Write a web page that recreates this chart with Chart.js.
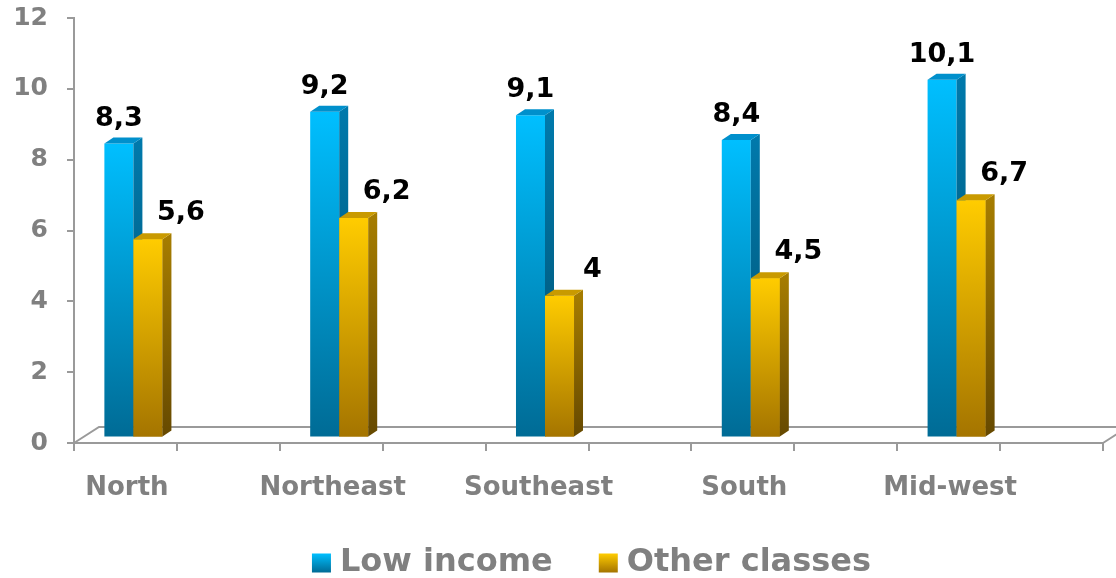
<!DOCTYPE html>
<html>
<head>
<meta charset="utf-8">
<script src="https://cdn.jsdelivr.net/npm/chart.js@4.4.1/dist/chart.umd.min.js"></script>
<style>
    html, body { margin: 0; padding: 0; background: #fff; }
    #wrap { width: 1116px; height: 578px; }
</style>
</head>
<body>
<div id="wrap"><canvas id="incomeChart" width="1116" height="578"></canvas></div>
<script>
// Chart data
const regions = ['North', 'Northeast', 'Southeast', 'South', 'Mid-west'];
const lowIncome = [8.3, 9.2, 9.1, 8.4, 10.1];
const otherClasses = [5.6, 6.2, 4, 4.5, 6.7];
const seriesNames = ['Low income', 'Other classes'];
const yMin = 0, yMax = 12, yStep = 2;

// colours for the fake 3D faces: [front top, front bottom, side top, side bottom, top face]
const blueShades = ['#00bfff', '#006b95', '#0079ab', '#00506f', '#0090cc'];
const goldShades = ['#ffcc00', '#a47400', '#a57c00', '#664900', '#c99a00'];

const FONT = "'DejaVu Sans', Verdana, sans-serif";
const GREY = '#808080';
const AXIS = '#9a9a9a';

// bars sit a bit behind the front edge of the floor
const SHIFT_X = -43.5, SHIFT_Y = -5.5;
const DEPTH_X = 9, DEPTH_Y = -6;
const FLOOR_X = 25, FLOOR_Y = -16;

function frontGradient(shades) {
    return function(c) {
        if (c.type !== 'data') return shades[0];
        const chart = c.chart;
        const ys = chart.scales.y;
        if (!ys) return shades[0];
        const top = ys.getPixelForValue(c.raw);
        const base = ys.getPixelForValue(0);
        if (!isFinite(top) || !isFinite(base) || top === base) return shades[0];
        const g = chart.ctx.createLinearGradient(0, top, 0, base);
        g.addColorStop(0, shades[0]);
        g.addColorStop(1, shades[1]);
        return g;
    };
}

function fmt(v) {
    return String(v).replace('.', ',');
}

function drawFaces(ctx, el, shades) {
    const l = el.x - el.width / 2, r = el.x + el.width / 2;
    const top = el.y, base = el.base;
    if (!isFinite(top) || !isFinite(base)) return;
    // side face
    const sg = ctx.createLinearGradient(0, top, 0, base);
    sg.addColorStop(0, shades[2]);
    sg.addColorStop(1, shades[3]);
    ctx.fillStyle = sg;
    ctx.beginPath();
    ctx.moveTo(r, top);
    ctx.lineTo(r + DEPTH_X, top + DEPTH_Y);
    ctx.lineTo(r + DEPTH_X, base + DEPTH_Y);
    ctx.lineTo(r, base);
    ctx.closePath();
    ctx.fill();
    // top face
    ctx.fillStyle = shades[4];
    ctx.beginPath();
    ctx.moveTo(l, top);
    ctx.lineTo(l + DEPTH_X, top + DEPTH_Y);
    ctx.lineTo(r + DEPTH_X, top + DEPTH_Y);
    ctx.lineTo(r, top);
    ctx.closePath();
    ctx.fill();
}

const floorPlugin = {
    id: 'floor3d',
    beforeDatasetsDraw(chart) {
        const { ctx, chartArea } = chart;
        const { left, right, bottom } = chartArea;
        const xs = chart.scales.x;
        ctx.save();
        ctx.strokeStyle = AXIS;
        ctx.lineWidth = 2;
        ctx.beginPath();
        ctx.moveTo(left, bottom);
        ctx.lineTo(left + FLOOR_X, bottom + FLOOR_Y);
        ctx.lineTo(right + FLOOR_X, bottom + FLOOR_Y);
        ctx.lineTo(right, bottom);
        ctx.stroke();
        // extra tick marks in the middle of each category
        ctx.beginPath();
        regions.forEach((r, i) => {
            const x = Math.round(xs.getPixelForTick(i));
            ctx.moveTo(x, bottom);
            ctx.lineTo(x, bottom + 8);
        });
        ctx.stroke();
        ctx.restore();
    },
    beforeDatasetDraw(chart) {
        chart.ctx.save();
        chart.ctx.translate(SHIFT_X, SHIFT_Y);
    },
    afterDatasetDraw(chart) {
        chart.ctx.restore();
    },
    afterDatasetsDraw(chart) {
        const ctx = chart.ctx;
        const blueMeta = chart.getDatasetMeta(0);
        const goldMeta = chart.getDatasetMeta(1);
        ctx.save();
        ctx.translate(SHIFT_X, SHIFT_Y);
        // blue depth first, then the gold bar in front of it
        blueMeta.data.forEach(el => drawFaces(ctx, el, blueShades));
        goldMeta.data.forEach(el => {
            el.draw(ctx);
            drawFaces(ctx, el, goldShades);
        });
        // value labels
        ctx.fillStyle = '#000';
        ctx.font = 'bold 27px ' + FONT;
        ctx.textAlign = 'center';
        ctx.textBaseline = 'middle';
        blueMeta.data.forEach((el, i) => {
            ctx.fillText(fmt(lowIncome[i]), el.x, el.y - 25);
        });
        goldMeta.data.forEach((el, i) => {
            ctx.fillText(fmt(otherClasses[i]), el.x + 33, el.y - 26);
        });
        ctx.restore();
    },
    afterDraw(chart) {
        // legend
        const { ctx, chartArea } = chart;
        ctx.save();
        ctx.font = 'bold 32px ' + FONT;
        ctx.textBaseline = 'middle';
        ctx.textAlign = 'left';
        const box = 19, gap = 9, itemGap = 46;
        const widths = seriesNames.map(n => ctx.measureText(n).width);
        const total = widths.reduce((a, w) => a + box + gap + w, 0) + itemGap;
        let x = (chartArea.left + chartArea.right) / 2 - total / 2 + 3;
        const yc = 563;
        seriesNames.forEach((name, i) => {
            const shades = i === 0 ? blueShades : goldShades;
            const g = ctx.createLinearGradient(0, yc - box / 2, 0, yc + box / 2);
            g.addColorStop(0, shades[0]);
            g.addColorStop(1, shades[1]);
            ctx.fillStyle = g;
            ctx.fillRect(x, yc - box / 2, box, box);
            x += box + gap;
            ctx.fillStyle = GREY;
            ctx.fillText(name, x, yc);
            x += widths[i] + itemGap;
        });
        ctx.restore();
    }
};

new Chart(document.getElementById('incomeChart').getContext('2d'), {
    type: 'bar',
    data: {
        labels: regions,
        datasets: [{
            label: seriesNames[0],
            data: lowIncome,
            backgroundColor: frontGradient(blueShades),
            borderWidth: 0,
            clip: false
        }, {
            label: seriesNames[1],
            data: otherClasses,
            backgroundColor: frontGradient(goldShades),
            borderWidth: 0,
            clip: false
        }]
    },
    options: {
        responsive: false,
        animation: false,
        categoryPercentage: 0.282,
        barPercentage: 1.0,
        layout: {
            padding: { top: 18, right: 13, left: 0, bottom: 56 }
        },
        plugins: {
            legend: { display: false },
            tooltip: { enabled: false }
        },
        scales: {
            x: {
                grid: {
                    display: true,
                    offset: true,
                    drawOnChartArea: false,
                    tickLength: 8,
                    color: AXIS,
                    lineWidth: 2
                },
                border: { display: true, color: AXIS, width: 2 },
                ticks: {
                    color: GREY,
                    font: { family: FONT, size: 26, weight: 'bold' },
                    padding: 22,
                    labelOffset: -50,
                    maxRotation: 0
                },
                afterFit(scale) { scale.height = 79; }
            },
            y: {
                min: yMin,
                max: yMax,
                grid: {
                    display: true,
                    drawOnChartArea: false,
                    tickLength: 7,
                    color: AXIS,
                    lineWidth: 2
                },
                border: { display: true, color: AXIS, width: 2 },
                ticks: {
                    stepSize: yStep,
                    color: GREY,
                    font: { family: FONT, size: 25, weight: 'bold' },
                    padding: 19
                },
                afterFit(scale) {
                    scale.width = 74;
                    scale.paddingTop = 0;
                    scale.paddingBottom = 0;
                }
            }
        }
    },
    plugins: [floorPlugin]
});
</script>
</body>
</html>
